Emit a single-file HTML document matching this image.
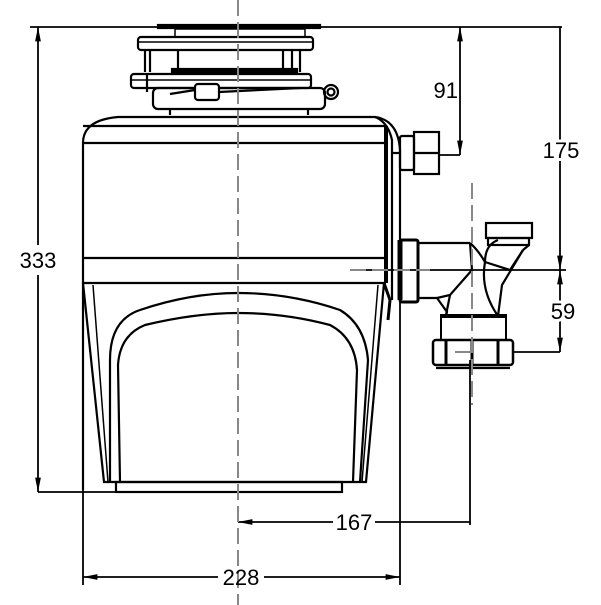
<!DOCTYPE html>
<html><head><meta charset="utf-8"><style>
html,body{margin:0;padding:0;background:#fff;}
svg{display:block;}
text{font-family:"Liberation Sans",sans-serif;font-size:22px;fill:#000;}
</style></head><body>
<svg width="601" height="605" viewBox="0 0 601 605" xmlns="http://www.w3.org/2000/svg">
<defs>
<marker id="a" viewBox="0 0 10 10" refX="10" refY="5" markerWidth="8" markerHeight="8" orient="auto-start-reverse"><path d="M0,3 L10,5 L0,7 z" fill="#000"/></marker>
</defs>
<g fill="none" stroke="#000" stroke-width="2.2">
<line x1="30" y1="27" x2="562" y2="27" stroke-width="1.8"/>
<rect x="158" y="25" width="162" height="3" fill="#000"/>
<rect x="175" y="29" width="130" height="8" stroke-width="1.5"/>
<rect x="138" y="37" width="175" height="13" rx="3"/>
<line x1="138" y1="42" x2="313" y2="42" stroke-width="1.5"/>
<line x1="145" y1="50" x2="145" y2="72"/><line x1="150" y1="50" x2="150" y2="72"/>
<line x1="178" y1="50" x2="178" y2="72"/>
<line x1="283" y1="50" x2="283" y2="72"/><line x1="292" y1="50" x2="292" y2="72"/>
<line x1="300" y1="50" x2="300" y2="72"/>
<rect x="172" y="69" width="125" height="3" fill="#000"/>
<rect x="131" y="74" width="180" height="14" rx="3"/>
<line x1="131" y1="80" x2="311" y2="80" stroke-width="1.5"/>
<line x1="147" y1="74" x2="147" y2="92"/>
<rect x="153" y="88" width="172" height="21" rx="5"/>
<rect x="195" y="84" width="24" height="16" rx="3" fill="#fff"/>
<line x1="170" y1="94" x2="195" y2="90"/><line x1="219" y1="92" x2="300" y2="88"/>
<circle cx="331" cy="92" r="7"/><circle cx="331" cy="92" r="3.5"/>
<line x1="170" y1="109" x2="170" y2="115"/><line x1="308" y1="109" x2="308" y2="115"/>
<path d="M83,490 L83,143 Q83,120 118,117 L375,117 Q388,122 392,140 L392,300"/>
<line x1="83" y1="126" x2="385" y2="126"/>
<line x1="83" y1="143" x2="386" y2="143"/>
<line x1="83" y1="258" x2="386" y2="258"/>
<line x1="83" y1="283" x2="386" y2="283"/>
<path d="M375,117 Q398,120 400,150 L400,240" />
<line x1="386" y1="126" x2="386" y2="283" stroke-width="4"/>
<path d="M83,283 L104,482 L366,482 L384,283"/>
<path d="M93,285 L108,482" stroke-width="1.5"/>
<path d="M378,285 L362,482" stroke-width="1.5"/>
<rect x="116" y="482" width="226" height="10"/>
<path d="M110,482 L110,360 Q110,320 140,310 Q190,293 238,293 Q290,293 340,310 Q365,325 368,360 L360,482"/>
<path d="M120,482 L118,365 Q120,335 145,325 Q195,313 238,313 Q285,313 330,325 Q355,338 357,370 L353,482"/>
<path d="M384,283 L390,300 L388,320" stroke-width="3"/>
<rect x="400" y="136" width="14" height="34" rx="2"/>
<rect x="414" y="132" width="25" height="42"/>
<line x1="414" y1="153" x2="439" y2="153"/>
<line x1="400" y1="153" x2="392" y2="153"/>
<rect x="400" y="240" width="18" height="62" rx="2" stroke-width="3"/>
<line x1="400" y1="240" x2="400" y2="300" stroke-width="5"/>
<line x1="418" y1="243" x2="470" y2="243"/>
<line x1="418" y1="298" x2="437" y2="298"/>
<path d="M470,243 Q478,250 485,262 L510,270 L523,250"/>
<line x1="470" y1="243" x2="472" y2="270"/>
<path d="M472,270 L450,295 L437,298 L447,312 L446,316"/>
<path d="M450,295 L446,315"/>
<path d="M485,262 Q485,245 498,240 M485,262 Q480,290 498,316"/>
<path d="M523,250 L502,285 L498,316"/>
<rect x="486" y="223" width="46" height="15"/>
<rect x="488" y="238" width="41" height="7"/>
<line x1="529" y1="245" x2="523" y2="250"/>
<rect x="441" y="315" width="65" height="25" stroke-width="2"/>
<line x1="441" y1="316" x2="506" y2="316" stroke-width="4"/>
<rect x="433" y="340" width="80" height="25" rx="3" stroke-width="2.5"/>
<line x1="446" y1="340" x2="446" y2="365" stroke-width="3"/>
<line x1="498" y1="340" x2="498" y2="365" stroke-width="3"/>
<line x1="472" y1="340" x2="472" y2="365" stroke-width="3"/>
<line x1="436" y1="368" x2="510" y2="368"/>
<line x1="38" y1="27" x2="38" y2="245" stroke-width="1.8" marker-start="url(#a)"/>
<line x1="38" y1="275" x2="38" y2="492" stroke-width="1.8" marker-end="url(#a)"/>
<line x1="38" y1="492" x2="116" y2="492" stroke-width="1.8"/>
<line x1="460" y1="27" x2="460" y2="155" stroke-width="1.8" marker-start="url(#a)" marker-end="url(#a)"/>
<line x1="439" y1="155" x2="460" y2="155" stroke-width="1.8"/>
<line x1="560" y1="27" x2="560" y2="270" stroke-width="1.8" marker-end="url(#a)"/>
<line x1="560" y1="270" x2="560" y2="352" stroke-width="1.8" marker-start="url(#a)" marker-end="url(#a)"/>
<line x1="350" y1="270" x2="566" y2="270" stroke-width="1.8"/>
<line x1="513" y1="352" x2="560" y2="352" stroke-width="1.8"/>
<line x1="400" y1="300" x2="400" y2="585" stroke-width="1.8"/>
<line x1="83" y1="490" x2="83" y2="585" stroke-width="1.8"/>
<line x1="470" y1="360" x2="470" y2="525" stroke-width="1.8"/>
<line x1="238" y1="522" x2="333" y2="522" stroke-width="1.8" marker-start="url(#a)"/>
<line x1="375" y1="522" x2="470" y2="522" stroke-width="1.8"/>
<line x1="83" y1="577" x2="218" y2="577" stroke-width="1.8" marker-start="url(#a)"/>
<line x1="264" y1="577" x2="400" y2="577" stroke-width="1.8" marker-end="url(#a)"/>
</g>
<g stroke="#888" stroke-width="2" stroke-dasharray="16,6" fill="none">
<line x1="238" y1="0" x2="238" y2="605"/>
<line x1="472" y1="183" x2="472" y2="405"/>
<line x1="350" y1="270" x2="430" y2="270"/>
<line x1="455" y1="352" x2="475" y2="352"/>
</g>
<g>
<text x="38" y="268" text-anchor="middle" style="paint-order:stroke" stroke="#fff" stroke-width="6">333</text>
<text x="458" y="98" text-anchor="end">91</text>
<text x="561" y="158" text-anchor="middle" style="paint-order:stroke" stroke="#fff" stroke-width="6">175</text>
<text x="563" y="319" text-anchor="middle" style="paint-order:stroke" stroke="#fff" stroke-width="6">59</text>
<text x="354" y="530" text-anchor="middle">167</text>
<text x="241" y="585" text-anchor="middle">228</text>
</g>
</svg>
</body></html>
